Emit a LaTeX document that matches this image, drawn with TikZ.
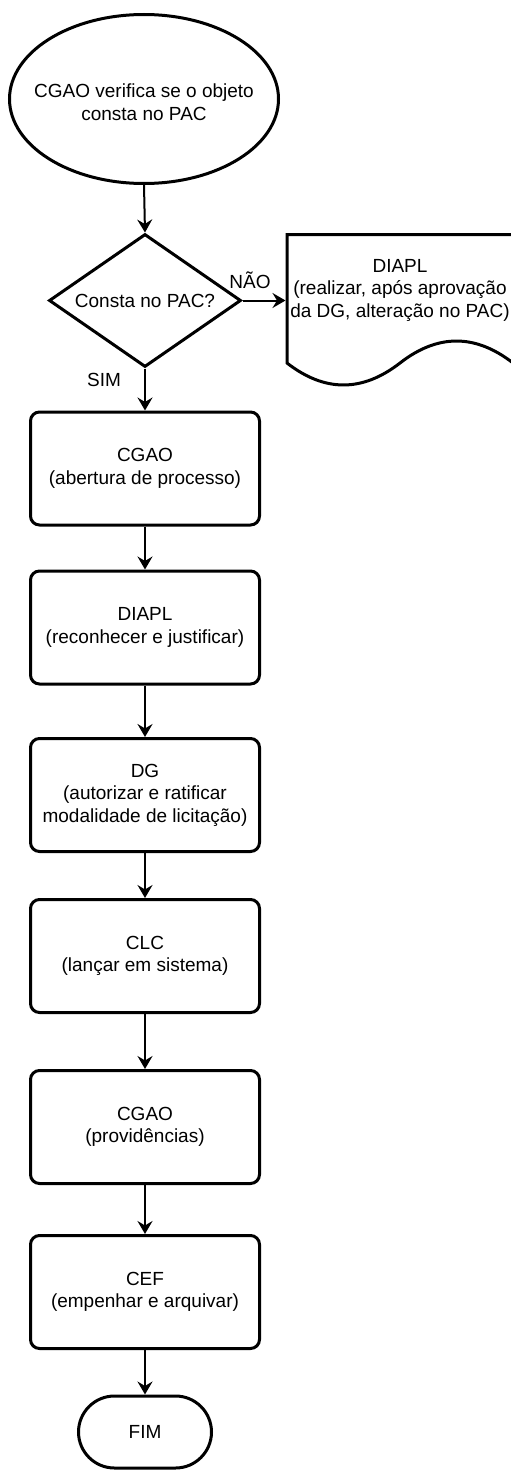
\documentclass[tikz,border=0pt]{standalone}
\usepackage{fontspec}
\setmainfont{Liberation Sans}
\usetikzlibrary{shapes.geometric,arrows.meta}
\begin{document}
\begin{tikzpicture}[x=1pt,y=-1pt,
  every node/.style={font=\fontsize{19}{22.5}\selectfont, align=center},
  proc/.style={draw, line width=3pt, rounded corners=9pt, minimum width=229pt, minimum height=113pt, inner sep=0pt},
  startshape/.style={draw, ellipse, line width=3pt, minimum width=269pt, minimum height=169pt, inner sep=0pt},
  decision/.style={draw, diamond, line width=3pt, minimum width=192pt, minimum height=133pt, aspect=1.44, inner sep=0pt},
  term/.style={draw, line width=3pt, rounded corners=36pt, minimum width=133pt, minimum height=72pt, inner sep=0pt},
  arr/.style={-{Stealth[length=13pt,width=15pt,inset=4.5pt]}, line width=2pt},
  lbl/.style={inner sep=0pt}
]
\useasboundingbox[fill=white] (0,0) rectangle (511,1472);

\node[startshape] (start) at (144,99) {};
\node (starttext) at (144,102) {CGAO verifica se o objeto\\consta no PAC};
\node[decision] (dia) at (145,300.5) {Consta no PAC?};
\node[minimum width=226pt, minimum height=130pt, inner sep=0pt, outer sep=1.5pt] (doc) at (400,298) {};
\draw[line width=3pt, line join=miter] (515,234.5) -- (287,234.5) -- (287,363)
  .. controls (324.7,392.3) and (362.3,392.3) .. (400,363)
  .. controls (437.7,333.7) and (475.3,333.7) .. (513,363);
\node (doctext) at (400,290) {DIAPL\\(realizar, após aprovação\\da DG, alteração no PAC)};

\node[proc] (b1) at (145,468.5) {CGAO\\(abertura de processo)};
\node[proc] (b2) at (145,627.5) {DIAPL\\(reconhecer e justificar)};
\node[proc] (b3) at (145,795) {DG\\(autorizar e ratificar\\modalidade de licitação)};
\node[proc] (b4) at (145,956) {CLC\\(lançar em sistema)};
\node[proc] (b5) at (145,1127) {CGAO\\(providências)};
\node[proc] (b6) at (145,1292) {CEF\\(empenhar e arquivar)};
\node[term] (fim) at (145,1432) {FIM};

\node[lbl] (nao) at (250,280) {NÃO};
\node[lbl] (sim) at (104,380) {SIM};

\draw[arr] (start.south) -- (dia.north);
\draw[arr] (dia.east) -- (dia.east -| doc.west);
\draw[arr] (dia.south) -- (b1.north);
\draw[arr] (b1) -- (b2);
\draw[arr] (b2) -- (b3);
\draw[arr] (b3) -- (b4);
\draw[arr] (b4) -- (b5);
\draw[arr] (b5) -- (b6);
\draw[arr] (b6) -- (fim);
\end{tikzpicture}
\end{document}
